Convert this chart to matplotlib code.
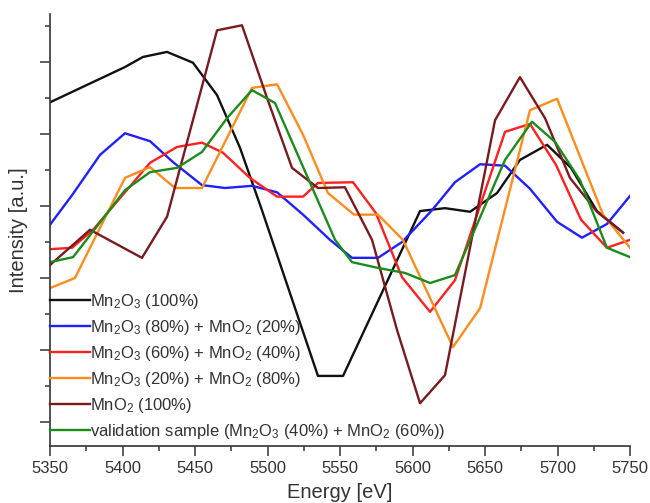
import matplotlib
matplotlib.use("Agg")
import matplotlib.pyplot as plt
from matplotlib.ticker import MultipleLocator, NullFormatter

plt.rcParams['font.family'] = ['Liberation Sans', 'DejaVu Sans']
plt.rcParams['mathtext.default'] = 'regular'

# ---- data (Energy [eV], Intensity [a.u.]) ----
e_mn2o3 = [5350, 5401.7, 5414.1, 5430.7, 5448.6, 5465.2, 5481, 5496.2, 5534.8, 5552.1,
           5605.2, 5622.4, 5639.7, 5658.3, 5674.1, 5692.8, 5709.3, 5727.2, 5745.2]
i_mn2o3 = [4.44, 4.93, 5.07, 5.14, 4.99, 4.54, 3.81, 2.94, 0.64, 0.64,
           2.93, 2.97, 2.92, 3.18, 3.64, 3.85, 3.53, 2.93, 2.63]

e_80_20 = [5350, 5365.2, 5384.5, 5401.7, 5419, 5434.8, 5454.8, 5470.7, 5489.3, 5506.6,
           5524.5, 5543.1, 5558.3, 5576.2, 5592.8, 5613.4, 5629.3, 5646.6, 5663.8, 5681,
           5699.7, 5716.9, 5734.1, 5750]
i_80_20 = [2.74, 3.15, 3.71, 4.01, 3.90, 3.61, 3.29, 3.25, 3.28, 3.19,
           2.88, 2.53, 2.28, 2.28, 2.50, 2.94, 3.33, 3.58, 3.56, 3.24,
           2.78, 2.56, 2.75, 3.14]

e_60_40 = [5350, 5365.2, 5379.7, 5419, 5437.6, 5454.8, 5469.3, 5487.9, 5506.6, 5524.5,
           5534.8, 5559, 5574.8, 5592.8, 5612.1, 5629.3, 5663.8, 5681, 5699, 5716.2,
           5734.1, 5750]
i_60_40 = [2.40, 2.42, 2.67, 3.60, 3.82, 3.88, 3.74, 3.39, 3.13, 3.13,
           3.32, 3.33, 2.90, 2.01, 1.53, 1.97, 4.03, 4.14, 3.57, 2.81,
           2.42, 2.53]

e_20_80 = [5350, 5367.2, 5401.7, 5419, 5436.2, 5454.8, 5489.3, 5506.6, 5524.5, 5541.7,
           5559.7, 5576.2, 5593.4, 5627.9, 5646.6, 5681, 5699.7, 5731.4, 5750]
i_20_80 = [1.86, 2.00, 3.39, 3.54, 3.25, 3.25, 4.64, 4.69, 3.99, 3.18,
           2.88, 2.88, 2.53, 1.04, 1.58, 4.33, 4.49, 2.88, 2.42]

e_mno2 = [5350, 5377.6, 5413.4, 5430.7, 5465.2, 5482.4, 5499.7, 5516.9, 5534.8, 5553.4,
          5572.1, 5589.3, 5605.2, 5622.4, 5656.9, 5674.1, 5691.4, 5708.6, 5727.2, 5745.2]
i_mno2 = [2.18, 2.67, 2.28, 2.85, 5.44, 5.51, 4.50, 3.53, 3.25, 3.26,
          2.53, 1.28, 0.26, 0.65, 4.19, 4.79, 4.22, 3.39, 2.92, 2.63]

e_valid = [5350, 5365.9, 5379, 5401.7, 5419, 5437.6, 5454.8, 5472.1, 5489.3, 5505.2,
           5546.6, 5558.3, 5576.2, 5594.8, 5612.1, 5629.3, 5663.8, 5682.4, 5698.3, 5715.5,
           5734.1, 5750]
i_valid = [2.22, 2.29, 2.63, 3.22, 3.47, 3.53, 3.75, 4.22, 4.61, 4.43,
           2.53, 2.22, 2.14, 2.07, 1.93, 2.04, 3.64, 4.17, 3.89, 3.36,
           2.42, 2.29]

labels = [r'Mn$_2$O$_3$ (100%)',
          r'Mn$_2$O$_3$ (80%) + MnO$_2$ (20%)',
          r'Mn$_2$O$_3$ (60%) + MnO$_2$ (40%)',
          r'Mn$_2$O$_3$ (20%) + MnO$_2$ (80%)',
          r'MnO$_2$ (100%)',
          r'validation sample (Mn$_2$O$_3$ (40%) + MnO$_2$ (60%))']
colors = ['#111111', '#1f1fff', '#ff1f1f', '#ff8c1a', '#7a1a1f', '#1a8c1a']

series = [(e_mn2o3, i_mn2o3), (e_80_20, i_80_20), (e_60_40, i_60_40),
          (e_20_80, i_20_80), (e_mno2, i_mno2), (e_valid, i_valid)]

fig = plt.figure(figsize=(6.5, 5.03), dpi=100)
ax = fig.add_axes([50/650, 57/503, 580/650, 432/503])

for (e, i), lab, c in zip(series, labels, colors):
    ax.plot(e, i, color=c, lw=1.7, label=lab)

ax.set_xlim(5350, 5750)
ax.set_ylim((422-446)/72, (422-14)/72)

ax.xaxis.set_major_locator(MultipleLocator(50))
ax.xaxis.set_minor_locator(MultipleLocator(25))
ax.yaxis.set_major_locator(MultipleLocator(1))
ax.yaxis.set_minor_locator(MultipleLocator(0.5))
ax.yaxis.set_major_formatter(NullFormatter())

for s in ['top', 'right']:
    ax.spines[s].set_visible(False)
for s in ['left', 'bottom']:
    ax.spines[s].set_color('#333333')
    ax.spines[s].set_linewidth(1.2)

ax.tick_params(which='major', direction='out', length=7, width=1.1, color='#333333',
               labelsize=12, pad=4, labelcolor='#333333')
ax.tick_params(which='minor', direction='out', length=3.5, width=1.1, color='#333333')

ax.set_xlabel('Energy [eV]', fontsize=14.5, color='#333333', labelpad=4.5)
ax.set_ylabel('Intensity [a.u.]', fontsize=14.5, color='#333333', labelpad=4.5)

leg = ax.legend(loc='lower left', bbox_to_anchor=(0.0, 0.012), frameon=False,
                fontsize=12, handlelength=2.4, handletextpad=0.0,
                borderaxespad=0.0, borderpad=0.0, labelspacing=0.42)
for t in leg.get_texts():
    t.set_color('#333333')

fig.savefig('out.png', dpi=100)
